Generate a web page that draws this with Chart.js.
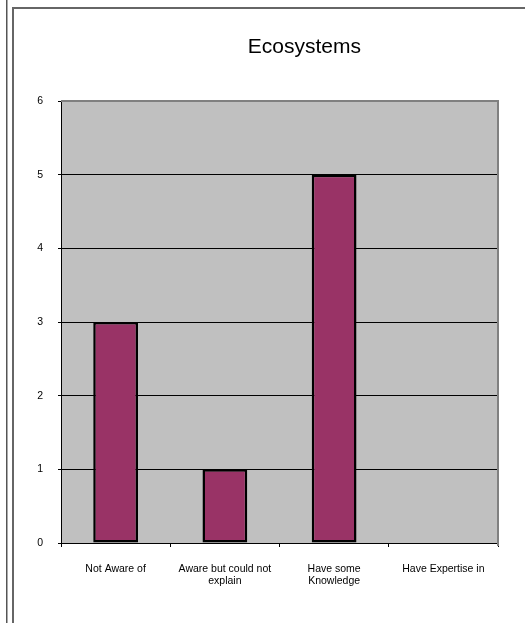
<!DOCTYPE html>
<html>
<head>
<meta charset="utf-8">
<script src="https://cdn.jsdelivr.net/npm/chart.js@4.4.1/dist/chart.umd.min.js"></script>
<style>
  html, body { margin: 0; padding: 0; background: #fff; }
  #wrap { position: relative; width: 525px; height: 623px; overflow: hidden; }
  #line-left { position: absolute; left: 6px; top: 0; width: 1px; height: 623px; background: #555; border-right: 1px solid #aaa; }
  #frame { position: absolute; left: 12px; top: 7px; width: 600px; height: 700px; border-left: 2px solid #666; border-top: 2px solid #666; }
  canvas { position: absolute; left: 0; top: 0; }
</style>
</head>
<body>
<div id="wrap">
  <div id="line-left"></div>
  <div id="frame"></div>
  <canvas id="bar-chart" width="525" height="623"></canvas>
</div>
<script>
const chartTitle = "Ecosystems";
const categories = [
  "Not Aware of",
  ["Aware but could not", "explain"],
  ["Have some", "Knowledge"],
  "Have Expertise in",
];
const counts = [3, 1, 5, 0];
const yTicks = [0, 1, 2, 3, 4, 5, 6];

// plot background + grey frame on top/right, like the old Excel chart
const plotFrame = {
  id: "plotFrame",
  beforeDraw(chart) {
    const { ctx, chartArea: a } = chart;
    ctx.save();
    ctx.fillStyle = "#C0C0C0";
    ctx.fillRect(a.left, a.top, a.right - a.left, a.bottom - a.top);
    ctx.restore();
  },
  afterDraw(chart) {
    const { ctx, chartArea: a } = chart;
    ctx.save();
    ctx.strokeStyle = "#808080";
    ctx.lineWidth = 2;
    ctx.beginPath();
    ctx.moveTo(a.left, a.top);
    ctx.lineTo(a.right, a.top);
    ctx.lineTo(a.right, a.bottom + 3);
    ctx.stroke();
    // title, sits a bit right of centre in the original
    ctx.fillStyle = "#000";
    ctx.font = "21px 'Liberation Sans', Arial, sans-serif";
    ctx.textAlign = "center";
    ctx.textBaseline = "middle";
    ctx.fillText(chartTitle, a.left + (a.right - a.left) * 0.557, 47);
    ctx.restore();
  },
};

const ctx = document.getElementById("bar-chart");

new Chart(ctx, {
  type: "bar",
  data: {
    labels: categories,
    datasets: [
      {
        label: chartTitle,
        data: counts,
        backgroundColor: "#993366",
        borderColor: "#000000",
        borderWidth: 2.5,
        borderSkipped: false,
        barPercentage: 0.41,
        categoryPercentage: 1,
      },
    ],
  },
  options: {
    responsive: false,
    animation: false,
    layout: {
      padding: { left: 0, right: 27, top: 101, bottom: 0 },
    },
    plugins: {
      legend: { display: false },
      title: { display: false },
      tooltip: { enabled: false },
    },
    scales: {
      y: {
        min: 0,
        max: 6,
        afterFit: (scale) => { scale.width = 61; },
        afterBuildTicks: (scale) => { scale.ticks = yTicks.map((v) => ({ value: v })); },
        grid: {
          color: "#000000",
          lineWidth: 1,
          tickLength: 3,
        },
        border: { color: "#000000", width: 1 },
        ticks: {
          color: "#000000",
          padding: 15,
          font: { family: "'Liberation Sans', Arial, sans-serif", size: 10.5 },
        },
      },
      x: {
        afterFit: (scale) => { scale.height = 80; },
        grid: {
          color: "#000000",
          drawOnChartArea: false,
          tickLength: 4,
          offset: true,
        },
        border: { color: "#000000", width: 1 },
        ticks: {
          color: "#000000",
          padding: 16,
          maxRotation: 0,
          autoSkip: false,
          font: { family: "'Liberation Sans', Arial, sans-serif", size: 10.5, lineHeight: 1.15 },
        },
      },
    },
  },
  plugins: [plotFrame],
});
</script>
</body>
</html>
